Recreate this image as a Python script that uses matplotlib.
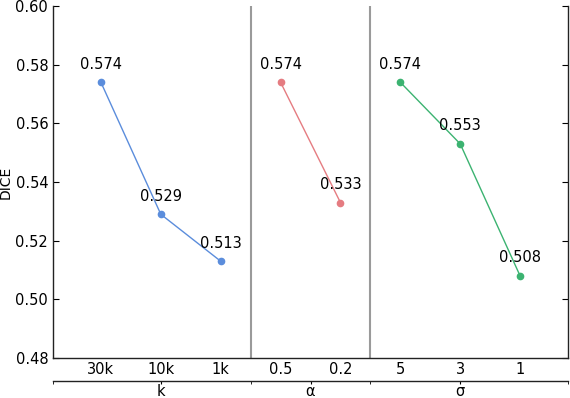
import matplotlib
matplotlib.use("Agg")
import matplotlib.pyplot as plt

k_labels = ["30k", "10k", "1k"]
k_values = [0.574, 0.529, 0.513]
alpha_labels = ["0.5", "0.2"]
alpha_values = [0.574, 0.533]
sigma_labels = ["5", "3", "1"]
sigma_values = [0.574, 0.553, 0.508]
group_names = ["k", "α", "σ"]

fig = plt.figure(figsize=(5.7, 3.98), dpi=100)
ax = fig.add_axes([53/570, 40/398, (568-53)/570, (358-6)/398])

groups = [(k_labels, k_values, "#5b8ddc"),
          (alpha_labels, alpha_values, "#e57c81"),
          (sigma_labels, sigma_values, "#3cb371")]

xpos = 0
all_labels = []
all_x = []
seps = []
centers = []
for i, (labs, vals, col) in enumerate(groups):
    xs = list(range(xpos, xpos + len(labs)))
    ax.plot(xs, vals, color=col, lw=1.0, marker="o", ms=4.5)
    for x, v in zip(xs, vals):
        ax.annotate(f"{v:.3f}", (x, v), xytext=(0, 7.5), textcoords="offset points",
                    ha="center", va="bottom", fontsize=10.5)
    all_labels += labs
    all_x += xs
    centers.append((xs[0] + xs[-1]) / 2)
    xpos += len(labs)
    if i < len(groups) - 1:
        seps.append(xpos - 0.5)

for s in seps:
    ax.axvline(s, color="#9a9a9a", lw=1.5)

ax.set_xlim(-0.8, 7.8)
ax.set_ylim(0.48, 0.60)
ax.set_yticks([0.48, 0.50, 0.52, 0.54, 0.56, 0.58, 0.60])
ax.set_xticks(all_x)
ax.set_xticklabels(all_labels)
ax.tick_params(axis="x", length=0, labelsize=10.5, pad=3)
ax.tick_params(axis="y", direction="in", left=True, right=True, length=4, labelsize=10.5)
ax.spines["top"].set_visible(False)
for sp in ["left", "right", "bottom"]:
    ax.spines[sp].set_color("#222222")
    ax.spines[sp].set_linewidth(1.0)
ax.set_ylabel("DICE", fontsize=10, labelpad=2)

sec = ax.secondary_xaxis(-23/352)
sec.set_xticks(centers)
sec.set_xticklabels(group_names)
sec.set_xticks([-0.8] + seps + [7.8], minor=True)
sec.tick_params(axis="x", which="major", length=2, direction="out", labelsize=10.5, pad=0)
sec.tick_params(axis="x", which="minor", length=2, direction="out")
sec.spines["bottom"].set_color("#222222")
sec.spines["bottom"].set_linewidth(1.0)

fig.savefig("out.png", dpi=100)
